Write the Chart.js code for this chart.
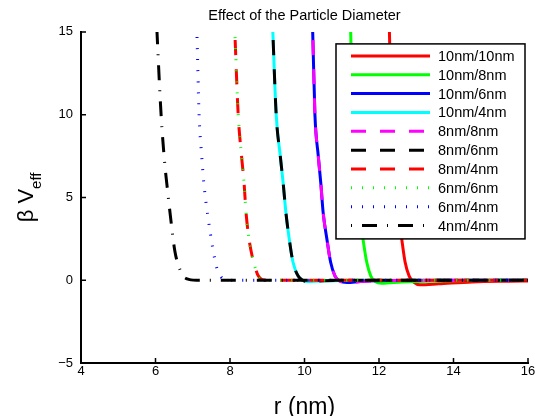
<!DOCTYPE html>
<html lang="en">
<head>
<meta charset="UTF-8">
<title>Effect of the Particle Diameter</title>
<script src="https://cdn.jsdelivr.net/npm/chart.js"></script>
<style>
  body { margin: 0; background: #fff; }
  #wrap { width: 535px; height: 416px; }
</style>
</head>
<body>
<div id="wrap"><canvas id="myChart"></canvas></div>
<script>
// values: r in nm, beta*V_eff (curves run past 15 and get clipped)
const names = ['10nm/10nm', '10nm/8nm', '10nm/6nm', '10nm/4nm', '8nm/8nm',
               '8nm/6nm', '8nm/4nm', '6nm/6nm', '6nm/4nm', '4nm/4nm'];

const r_10_10 = [12.24, 12.28, 12.33, 12.40, 12.46, 12.52, 12.61, 12.70, 12.81, 12.93, 13.1, 13.6, 14.5, 15.5, 16];
const v_10_10 = [18, 15, 10, 7.5, 5.8, 4.1, 2.5, 1.1, 0.25, -0.12, -0.28, -0.22, -0.1, -0.06, -0.05];

const r_10_8 = [11.20, 11.24, 11.29, 11.36, 11.42, 11.48, 11.57, 11.67, 11.78, 11.90, 12.07, 12.6, 13.5, 15, 16];
const v_10_8 = [18, 15, 10, 7.5, 5.8, 4.1, 2.5, 1.1, 0.25, -0.08, -0.18, -0.1, -0.04, -0.01, 0];

const r_10_6 = [10.17, 10.22, 10.28, 10.37, 10.44, 10.50, 10.60, 10.70, 10.82, 10.95, 11.14, 11.5, 12.2, 16];
const v_10_6 = [18, 15, 10, 7.5, 5.8, 4.1, 2.5, 1.1, 0.25, -0.05, -0.14, -0.08, -0.02, 0];

const r_10_4 = [9.10, 9.15, 9.24, 9.35, 9.43, 9.50, 9.59, 9.69, 9.83, 9.95, 10.1, 10.4, 11, 16];
const v_10_4 = [18, 15, 10, 7.5, 5.8, 4.1, 2.5, 1.1, 0.25, 0, -0.08, -0.05, -0.01, 0];

// 8/8 sits on 10/6, 8/6 on 10/4, 6/6 on 8/4
const r_8_8 = r_10_6, v_8_8 = v_10_6;
const r_8_6 = r_10_4, v_8_6 = v_10_4;

const r_8_4 = [8.08, 8.13, 8.22, 8.31, 8.38, 8.43, 8.51, 8.60, 8.67, 8.75, 8.85, 9.0, 16];
const v_8_4 = [18, 15, 10, 7.5, 5.8, 4.1, 2.5, 1.4, 0.8, 0.3, 0.06, 0, 0];
const r_6_6 = r_8_4, v_6_6 = v_8_4;

const r_6_4 = [7.06, 7.11, 7.17, 7.24, 7.30, 7.41, 7.54, 7.65, 7.76, 7.86, 7.95, 8.1, 16];
const v_6_4 = [18, 15, 10, 7.5, 5.8, 3.8, 1.9, 0.7, 0.2, 0.06, 0.01, 0, 0];

const r_4_4 = [5.98, 6.04, 6.15, 6.25, 6.32, 6.43, 6.52, 6.63, 6.74, 6.85, 6.95, 7.1, 16];
const v_4_4 = [18, 15, 10, 7, 5.5, 3.3, 1.75, 0.8, 0.25, 0.08, 0.02, 0, 0];

const xTicks = [4, 6, 8, 10, 12, 14, 16];
const yTicks = [-5, 0, 5, 10, 15];

const FONT = '"Liberation Sans", Arial, sans-serif';

// line styles, matlab-ish
const styles = [
    { color: '#ff0000', dash: [] },
    { color: '#00ff00', dash: [] },
    { color: '#0000ff', dash: [] },
    { color: '#00ffff', dash: [] },
    { color: '#ff00ff', dash: [15, 14] },
    { color: '#000000', dash: [15, 14] },
    { color: '#ff0000', dash: [15, 14] },
    { color: '#00ff00', dash: [1, 10] },
    { color: '#0000ff', dash: [1, 10] },
    { color: '#000000', dash: [1, 10, 15, 10] }
];

const series = [
    [r_10_10, v_10_10], [r_10_8, v_10_8], [r_10_6, v_10_6], [r_10_4, v_10_4], [r_8_8, v_8_8],
    [r_8_6, v_8_6], [r_8_4, v_8_4], [r_6_6, v_6_6], [r_6_4, v_6_4], [r_4_4, v_4_4]
];

function toPoints(r, v) {
    return r.map((x, i) => ({ x: x, y: v[i] }));
}

const datasets = series.map((s, i) => ({
    label: names[i],
    data: toPoints(s[0], s[1]),
    borderColor: styles[i].color,
    borderDash: styles[i].dash,
    borderWidth: 3,
    borderCapStyle: 'butt',
    pointRadius: 0,
    cubicInterpolationMode: 'monotone',
    clip: 0,
    order: 10 - i       // later curves on top, like matlab
}));

// legend box inside the axes, inward ticks and the y label with subscript
const decor = {
    id: 'decor',
    afterDatasetsDraw(chart) {
        const ctx = chart.ctx;
        const a = chart.chartArea;
        const w = 189, h = 195;
        const left = a.right - 3 - w, top = a.top + 12;
        ctx.save();
        ctx.fillStyle = '#fff';
        ctx.fillRect(left, top, w, h);
        ctx.strokeStyle = '#000';
        ctx.lineWidth = 1.5;
        ctx.strokeRect(left, top, w, h);
        ctx.font = '14.5px ' + FONT;
        ctx.textBaseline = 'middle';
        ctx.textAlign = 'left';
        chart.data.datasets.forEach((ds, i) => {
            const y = top + 12 + i * 18.85;
            ctx.beginPath();
            ctx.setLineDash(ds.borderDash);
            ctx.lineCap = 'butt';
            ctx.lineWidth = ds.borderWidth;
            ctx.strokeStyle = ds.borderColor;
            ctx.moveTo(left + 15, y);
            ctx.lineTo(left + 94, y);
            ctx.stroke();
            ctx.fillStyle = '#000';
            ctx.fillText(ds.label, left + 102, y + 1);
        });
        ctx.restore();
    },
    afterDraw(chart) {
        const ctx = chart.ctx;
        const a = chart.chartArea;
        const xs = chart.scales.x, ys = chart.scales.y;
        ctx.save();
        ctx.strokeStyle = '#000';
        ctx.lineWidth = 1.5;
        ctx.beginPath();
        xs.ticks.forEach(t => {
            const px = xs.getPixelForValue(t.value);
            ctx.moveTo(px, a.bottom);
            ctx.lineTo(px, a.bottom - 5);
        });
        ys.ticks.forEach(t => {
            const py = ys.getPixelForValue(t.value);
            ctx.moveTo(a.left, py);
            ctx.lineTo(a.left + 5, py);
        });
        ctx.stroke();

        // beta V_eff
        const mid = (a.top + a.bottom) / 2;
        ctx.translate(33, mid);
        ctx.rotate(-Math.PI / 2);
        ctx.fillStyle = '#000';
        ctx.textAlign = 'left';
        ctx.textBaseline = 'alphabetic';
        ctx.font = '22px ' + FONT;
        const w1 = ctx.measureText('\u03B2 V').width;
        ctx.font = '15px ' + FONT;
        const w2 = ctx.measureText('eff').width;
        const start = -(w1 + w2) / 2;
        ctx.font = '22px ' + FONT;
        ctx.fillText('\u03B2 V', start, 0);
        ctx.font = '15px ' + FONT;
        ctx.fillText('eff', start + w1, 8);
        ctx.restore();
    }
};

const config = {
    type: 'line',
    data: { datasets: datasets },
    options: {
        responsive: true,
        maintainAspectRatio: false,
        animation: false,
        events: [],
        layout: { padding: { left: 0, right: 7, top: 0, bottom: 0 } },
        plugins: {
            legend: { display: false },
            tooltip: { enabled: false },
            title: {
                display: true,
                text: 'Effect of the Particle Diameter',
                color: '#000',
                fullSize: false,
                font: { family: FONT, size: 14.5, weight: 'normal', lineHeight: 1.2 },
                padding: { top: 7, bottom: 7.5 }
            }
        },
        scales: {
            x: {
                type: 'linear',
                min: 4,
                max: 16,
                grid: { display: false, drawTicks: false },
                border: { display: true, color: '#000', width: 2 },
                afterBuildTicks: s => { s.ticks = xTicks.map(v => ({ value: v })); },
                afterFit: s => { s.height = 53; s.paddingLeft = 0; s.paddingRight = 0; },
                ticks: {
                    color: '#000',
                    padding: 1,
                    maxRotation: 0,
                    autoSkip: false,
                    font: { family: FONT, size: 13 }
                },
                title: {
                    display: true,
                    text: 'r (nm)',
                    color: '#000',
                    font: { family: FONT, size: 23, lineHeight: 1 },
                    padding: { top: 0, bottom: -3 }
                }
            },
            y: {
                min: -5,
                max: 15,
                grid: { display: false, drawTicks: false },
                border: { display: true, color: '#000', width: 2 },
                afterBuildTicks: s => { s.ticks = yTicks.map(v => ({ value: v })); },
                afterFit: s => { s.width = 81; s.paddingTop = 0; s.paddingBottom = 0; },
                ticks: {
                    color: '#000',
                    padding: 8,
                    autoSkip: false,
                    font: { family: FONT, size: 13 },
                    callback: v => String(v).replace('-', '\u2212')
                }
            }
        }
    },
    plugins: [decor]
};

const ctx = document.getElementById('myChart').getContext('2d');
const myChart = new Chart(ctx, config);
</script>
</body>
</html>
